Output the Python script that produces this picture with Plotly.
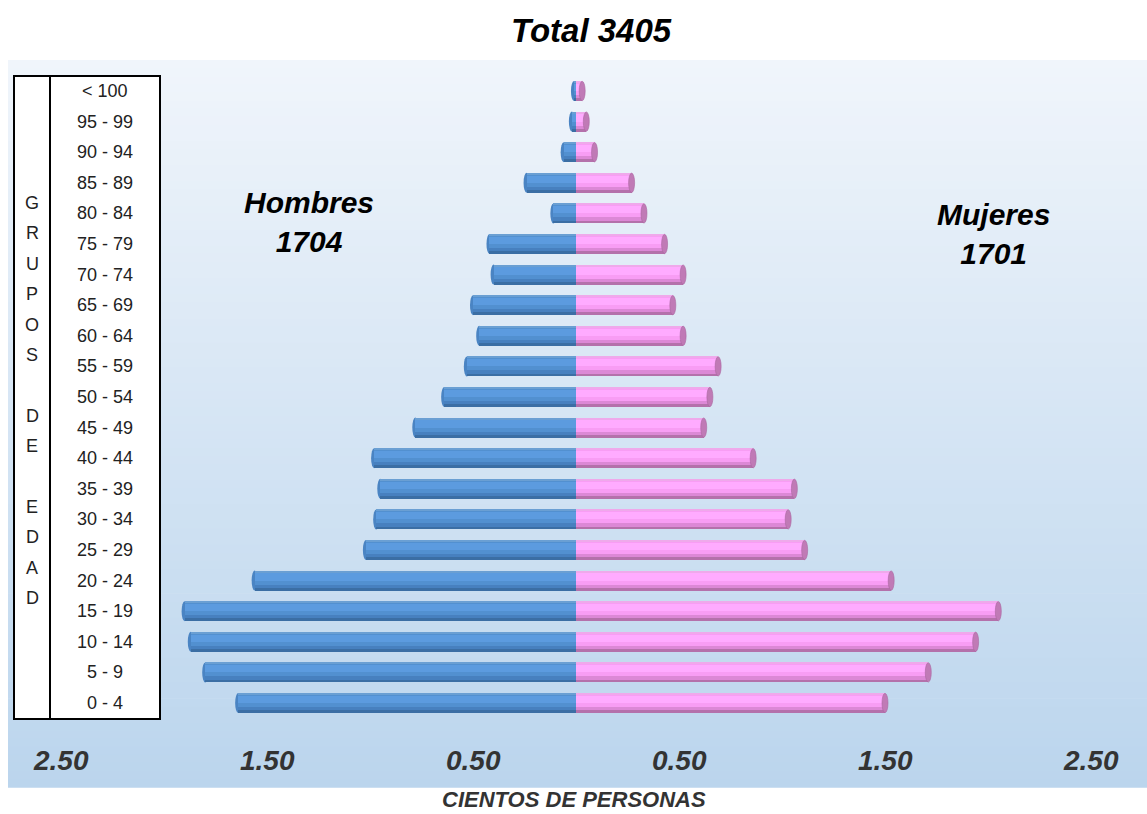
import plotly.graph_objects as go

# Population pyramid, hundreds of people per age group
age_groups = ["0 - 4", "5 - 9", "10 - 14", "15 - 19", "20 - 24", "25 - 29", "30 - 34",
              "35 - 39", "40 - 44", "45 - 49", "50 - 54", "55 - 59", "60 - 64", "65 - 69",
              "70 - 74", "75 - 79", "80 - 84", "85 - 89", "90 - 94", "95 - 99", "< 100"]
hombres = [1.64, 1.80, 1.87, 1.90, 1.56, 1.02, 0.97, 0.95, 0.98, 0.78, 0.64,
           0.53, 0.47, 0.50, 0.40, 0.42, 0.11, 0.24, 0.06, 0.02, 0.01]
mujeres = [1.50, 1.71, 1.94, 2.05, 1.53, 1.11, 1.03, 1.06, 0.86, 0.62, 0.65,
           0.69, 0.52, 0.47, 0.52, 0.43, 0.33, 0.27, 0.09, 0.05, 0.03]
tick_values = [-2.5, -1.5, -0.5, 0.5, 1.5, 2.5]
tick_text = ["2.50", "1.50", "0.50", "0.50", "1.50", "2.50"]
total_hombres = 1704
total_mujeres = 1701
axis_letters = ["G", "R", "U", "P", "O", "S", "", "D", "E", "", "E", "D", "A", "D"]

W, H = 1147, 814
L, R, T, B = 8, 0, 60, 27
PW, PH = W - L - R, H - T - B

PX_PER_UNIT = 206.0
CENTER_PX = 576
ROW_PX = 30.6
FIRST_ROW_PX = 703  # pixel row of the youngest group

x_range = [-(CENTER_PX - L) / PX_PER_UNIT, (W - R - CENTER_PX) / PX_PER_UNIT]
y_range = [-(H - B - FIRST_ROW_PX) / ROW_PX,
           (len(age_groups) - 1) + ((FIRST_ROW_PX - (len(age_groups) - 1) * ROW_PX) - T) / ROW_PX]


def px_x(p):
    return (p - L) / PW


def px_y(p):
    return 1 - (p - T) / PH


ys = list(range(len(age_groups)))
BW = 20 / ROW_PX          # bar thickness in row units
CAP = 3 / PX_PER_UNIT     # half-width of the cylinder end ellipse

# shading bands (bottom, top as fraction of thickness) -> (blue, pink)
bands = [
    (-0.50, 0.50, "#3b6ea4", "#b471ab"),
    (-0.36, 0.50, "#4780bf", "#dc88d6"),
    (-0.20, 0.50, "#5290d0", "#f89df4"),
    (0.00, 0.36, "#5c9bdf", "#ffabff"),
    (0.40, 0.50, "#6a9fd3", "#efa9eb"),
]

fig = go.Figure()
for lo, hi, c_blue, c_pink in bands:
    fig.add_trace(go.Bar(
        y=ys, x=[-v for v in hombres], orientation="h",
        width=BW * (hi - lo), offset=BW * lo,
        marker=dict(color=c_blue, line=dict(width=0)),
        hoverinfo="skip", showlegend=False))
    fig.add_trace(go.Bar(
        y=ys, x=mujeres, orientation="h",
        width=BW * (hi - lo), offset=BW * lo,
        marker=dict(color=c_pink, line=dict(width=0)),
        hoverinfo="skip", showlegend=False))

shapes = []
# vertical background gradient
n_strips = 90
top_rgb = (240, 245, 251)
bot_rgb = (187, 213, 237)
bg_top, bg_bot = px_y(60), 0.0
for k in range(n_strips):
    t = k / (n_strips - 1)
    rgb = tuple(round(a + (b - a) * t) for a, b in zip(top_rgb, bot_rgb))
    y1 = bg_top - (bg_top - bg_bot) * k / n_strips
    y0 = bg_top - (bg_top - bg_bot) * (k + 1) / n_strips
    shapes.append(dict(type="rect", xref="paper", yref="paper", x0=0, x1=1,
                       y0=y0 - 0.001, y1=y1, fillcolor="rgb(%d,%d,%d)" % rgb,
                       line=dict(width=0), layer="below"))

# rounded far end of the male cylinders
for i, v in enumerate(hombres):
    shapes.append(dict(type="circle", xref="x", yref="y",
                       x0=-v - CAP, x1=-v + CAP, y0=i - BW / 2, y1=i + BW / 2,
                       fillcolor="#4a84c3", line=dict(width=0), layer="below"))
# end face of the female cylinders
for i, v in enumerate(mujeres):
    shapes.append(dict(type="circle", xref="x", yref="y",
                       x0=v - CAP, x1=v + CAP, y0=i - BW / 2 + 0.01, y1=i + BW / 2 - 0.01,
                       fillcolor="#c07ab6", line=dict(color="#a9679f", width=0.6), layer="above"))

# age-group box
shapes.append(dict(type="rect", xref="paper", yref="paper",
                   x0=px_x(14), x1=px_x(160), y0=px_y(719), y1=px_y(76),
                   fillcolor="white", line=dict(color="black", width=2), layer="above"))
shapes.append(dict(type="line", xref="paper", yref="paper",
                   x0=px_x(50), x1=px_x(50), y0=px_y(719), y1=px_y(76),
                   line=dict(color="black", width=2), layer="above"))

annotations = []
sans = "Liberation Sans, Arial"
for i, label in enumerate(age_groups):
    annotations.append(dict(text=label, xref="paper", yref="y", x=px_x(105), y=i,
                            showarrow=False, xanchor="center", yanchor="middle",
                            font=dict(family=sans, size=18, color="#222222")))
for k, letter in enumerate(axis_letters):
    if letter:
        annotations.append(dict(text=letter, xref="paper", yref="paper",
                                x=px_x(32), y=px_y(203 + 30.4 * k),
                                showarrow=False, xanchor="center", yanchor="middle",
                                font=dict(family=sans, size=18, color="#222222")))
for tv, tt in zip(tick_values, tick_text):
    annotations.append(dict(text="<b><i>%s</i></b>" % tt, xref="x", yref="paper",
                            x=tv, y=px_y(760), showarrow=False,
                            xanchor="center", yanchor="middle",
                            font=dict(family=sans, size=28, color="#333333")))
annotations.append(dict(text="<b><i>CIENTOS DE PERSONAS</i></b>", xref="paper", yref="paper",
                        x=px_x(574), y=px_y(800), showarrow=False,
                        xanchor="center", yanchor="middle",
                        font=dict(family=sans, size=22, color="#333333")))
annotations.append(dict(text="<b><i>Total %d</i></b>" % (total_hombres + total_mujeres),
                        xref="paper", yref="paper", x=px_x(591), y=px_y(30),
                        showarrow=False, xanchor="center", yanchor="middle",
                        font=dict(family=sans, size=33, color="black")))
annotations.append(dict(text="<b><i>Hombres<br>%d</i></b>" % total_hombres,
                        xref="paper", yref="paper", x=px_x(309), y=px_y(222),
                        showarrow=False, xanchor="center", yanchor="middle",
                        font=dict(family=sans, size=30, color="black")))
annotations.append(dict(text="<b><i>Mujeres<br>%d</i></b>" % total_mujeres,
                        xref="paper", yref="paper", x=px_x(994), y=px_y(234),
                        showarrow=False, xanchor="center", yanchor="middle",
                        font=dict(family=sans, size=30, color="black")))

fig.update_layout(
    width=W, height=H,
    margin=dict(l=L, r=R, t=T, b=B, pad=0),
    paper_bgcolor="white", plot_bgcolor="rgba(0,0,0,0)",
    barmode="overlay", bargap=0,
    xaxis=dict(range=x_range, showgrid=False, zeroline=False, showticklabels=False,
               ticks="", showline=False, fixedrange=True),
    yaxis=dict(range=y_range, showgrid=False, zeroline=False, showticklabels=False,
               ticks="", showline=False, fixedrange=True),
    shapes=shapes, annotations=annotations,
)

fig.write_html("out.html", config={"displayModeBar": False})
